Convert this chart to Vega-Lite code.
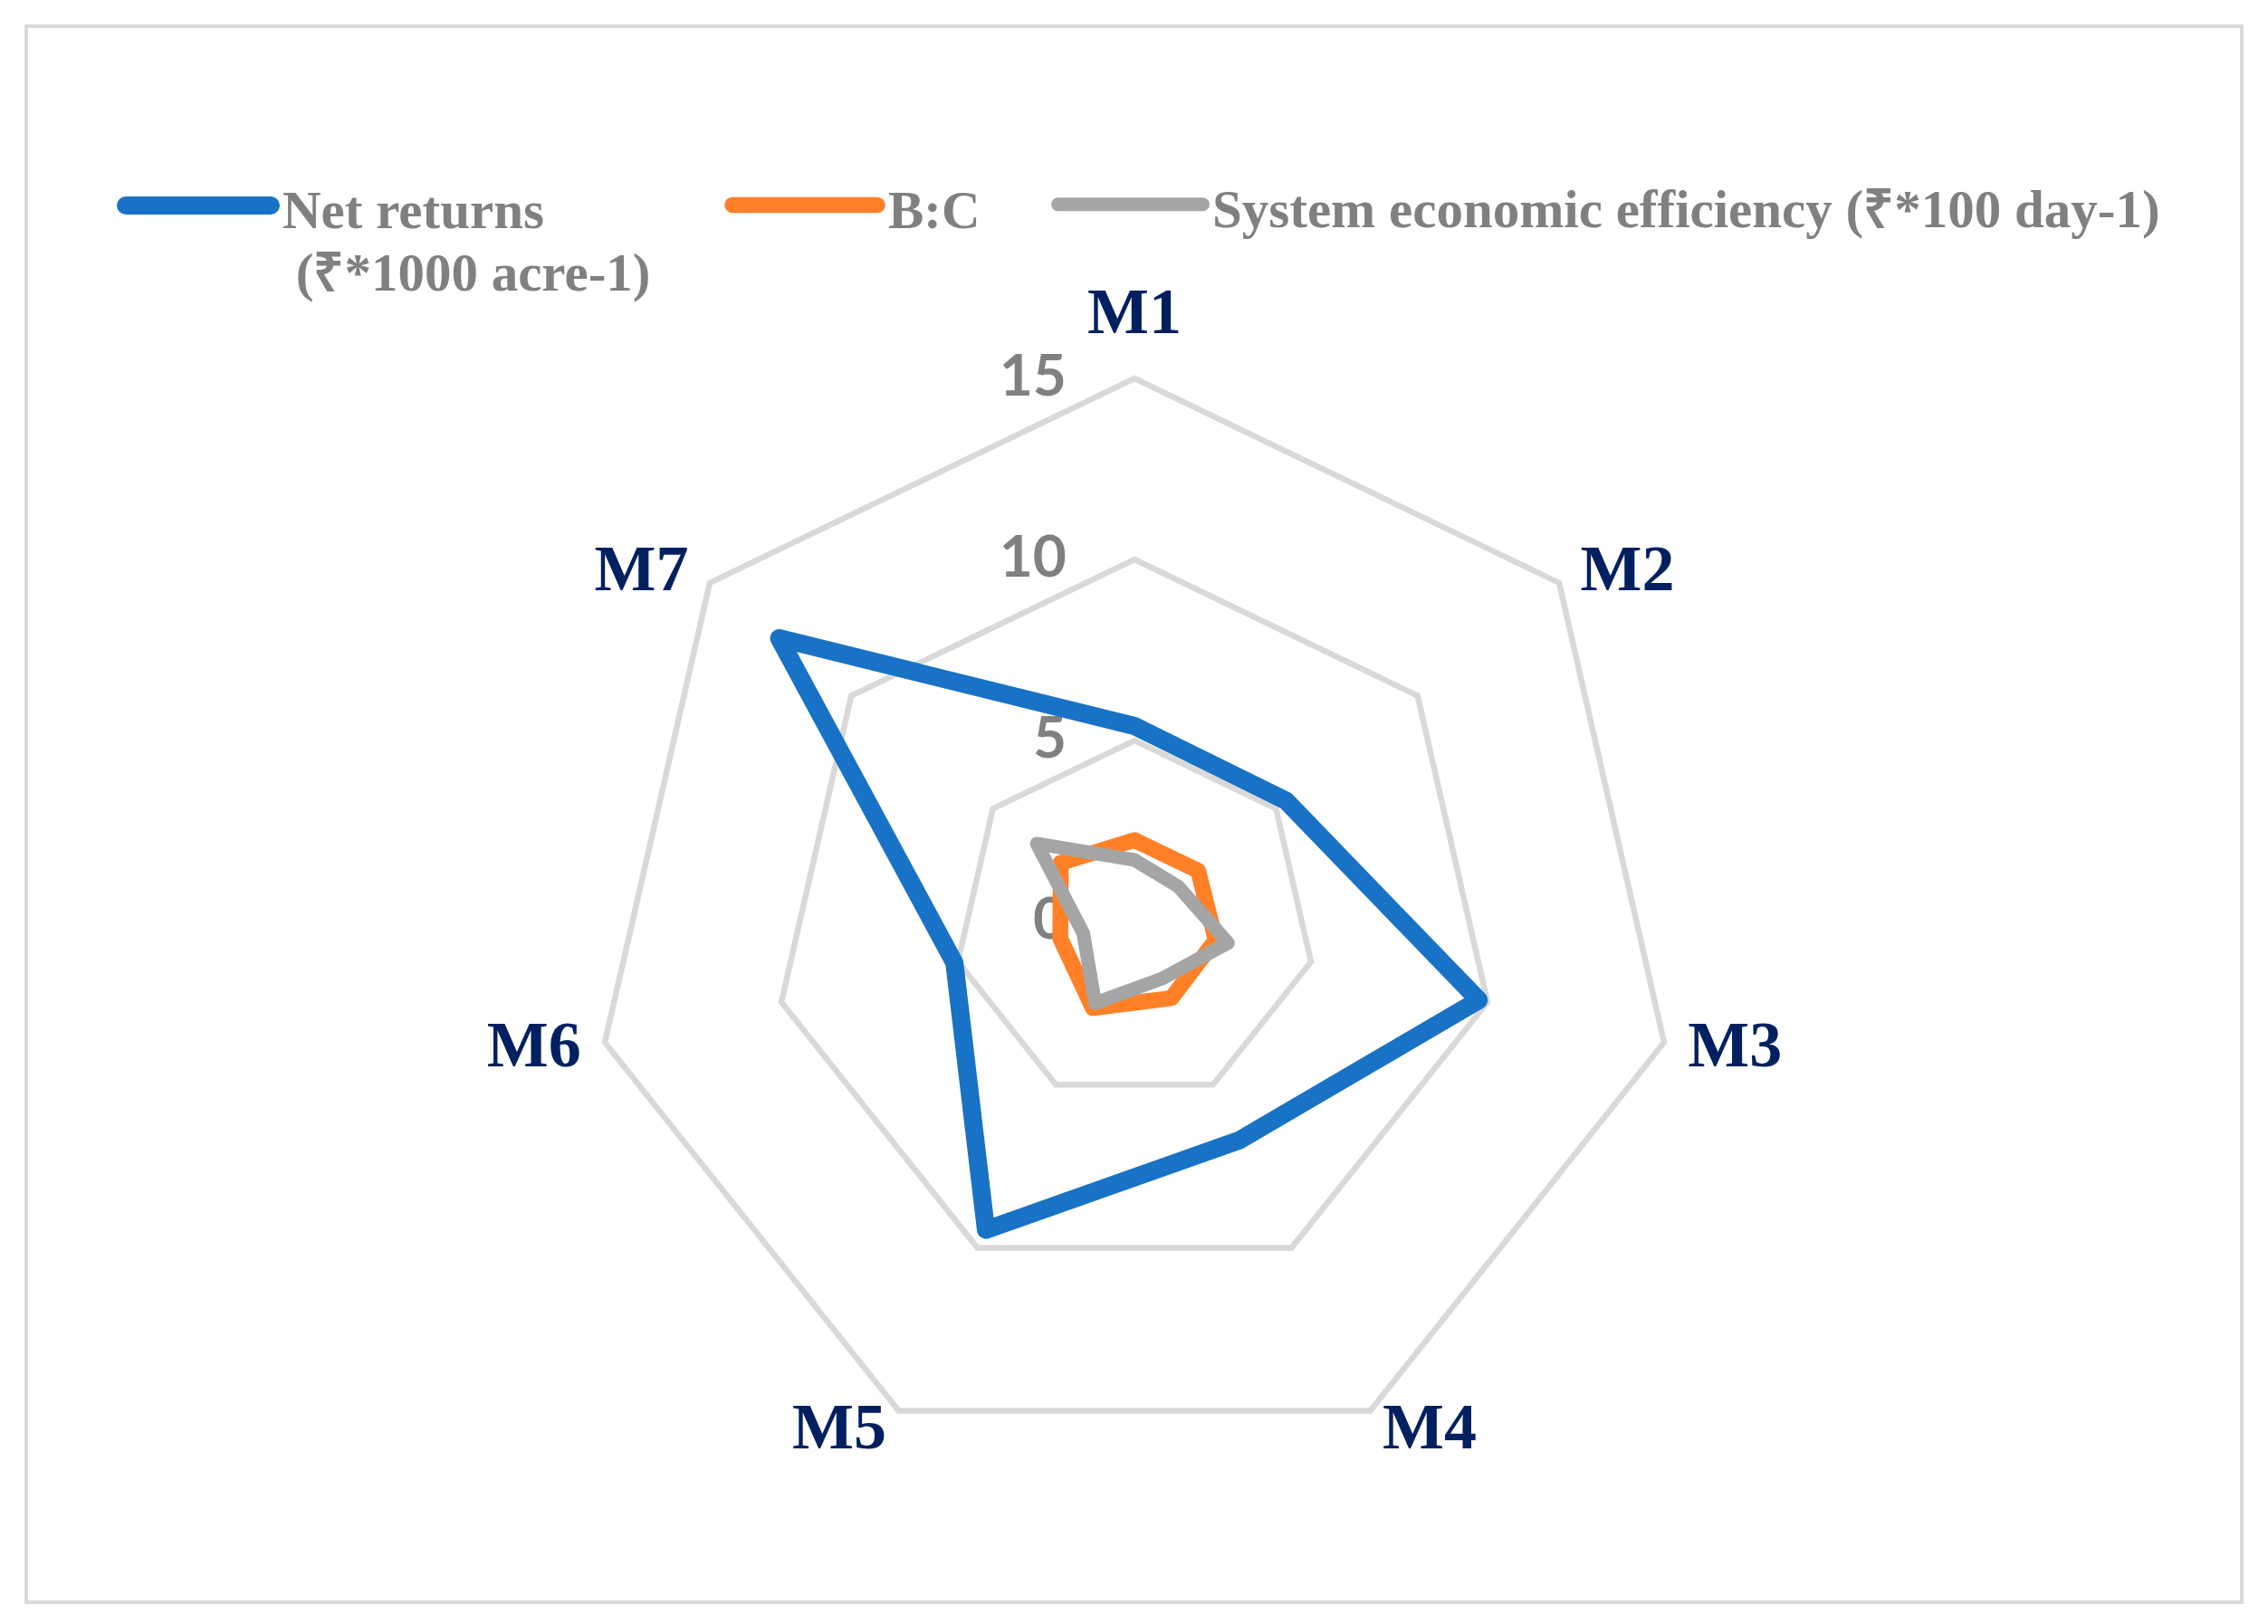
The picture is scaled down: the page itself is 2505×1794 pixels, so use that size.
{
  "$schema": "https://vega.github.io/schema/vega-lite/v6.json",
  "width": 2505,
  "height": 1794,
  "autosize": {"type": "fit", "contains": "padding"},
  "padding": {"left": 29, "right": 29, "top": 29, "bottom": 24},
  "background": "white",
  "config": {"view": {"stroke": "#d9d9d9", "strokeWidth": 4}},
  "datasets": {
    "series": [
      {"series": "Net returns (₹*1000 acre-1)", "cat": "M1", "value": 5.4},
      {"series": "Net returns (₹*1000 acre-1)", "cat": "M2", "value": 5.35},
      {"series": "Net returns (₹*1000 acre-1)", "cat": "M3", "value": 9.75},
      {"series": "Net returns (₹*1000 acre-1)", "cat": "M4", "value": 6.7},
      {"series": "Net returns (₹*1000 acre-1)", "cat": "M5", "value": 9.45},
      {"series": "Net returns (₹*1000 acre-1)", "cat": "M6", "value": 5.1},
      {"series": "Net returns (₹*1000 acre-1)", "cat": "M7", "value": 12.55},
      {"series": "B:C", "cat": "M1", "value": 2.25},
      {"series": "B:C", "cat": "M2", "value": 2.25},
      {"series": "B:C", "cat": "M3", "value": 2.3},
      {"series": "B:C", "cat": "M4", "value": 2.35},
      {"series": "B:C", "cat": "M5", "value": 2.65},
      {"series": "B:C", "cat": "M6", "value": 2.1},
      {"series": "B:C", "cat": "M7", "value": 2.6},
      {"series": "System economic efficiency (₹*100 day-1)", "cat": "M1", "value": 1.7},
      {"series": "System economic efficiency (₹*100 day-1)", "cat": "M2", "value": 1.55},
      {"series": "System economic efficiency (₹*100 day-1)", "cat": "M3", "value": 2.65},
      {"series": "System economic efficiency (₹*100 day-1)", "cat": "M4", "value": 1.75},
      {"series": "System economic efficiency (₹*100 day-1)", "cat": "M5", "value": 2.5},
      {"series": "System economic efficiency (₹*100 day-1)", "cat": "M6", "value": 1.45},
      {"series": "System economic efficiency (₹*100 day-1)", "cat": "M7", "value": 3.45}
    ],
    "grid": [
      {"level": 5, "cat": ["M1", "M2", "M3", "M4", "M5", "M6", "M7"]},
      {"level": 10, "cat": ["M1", "M2", "M3", "M4", "M5", "M6", "M7"]},
      {"level": 15, "cat": ["M1", "M2", "M3", "M4", "M5", "M6", "M7"]}
    ],
    "cats": [
      {"cat": "M1"}, {"cat": "M2"}, {"cat": "M3"}, {"cat": "M4"}, {"cat": "M5"}, {"cat": "M6"}, {"cat": "M7"}
    ],
    "ticks": [{"level": 0}, {"level": 5}, {"level": 10}, {"level": 15}]
  },
  "layer": [
    {
      "data": {"name": "grid"},
      "transform": [
        {"flatten": ["cat"]},
        {"calculate": "indexof(['M1','M2','M3','M4','M5','M6','M7'], datum.cat)", "as": "k"},
        {"calculate": "datum.level * sin(datum.k * 2 * PI / 7)", "as": "px"},
        {"calculate": "datum.level * cos(datum.k * 2 * PI / 7)", "as": "py"}
      ],
      "mark": {"type": "line", "interpolate": "linear-closed", "stroke": "#d9d9d9", "strokeWidth": 6.5},
      "encoding": {
        "x": {"field": "px", "type": "quantitative", "scale": {"domain": [-30.6, 30.575], "nice": false, "zero": false}, "axis": null},
        "y": {"field": "py", "type": "quantitative", "scale": {"domain": [-18.8, 24.725], "nice": false, "zero": false}, "axis": null},
        "detail": {"field": "level"},
        "order": {"field": "k"}
      }
    },
    {
      "data": {"name": "ticks"},
      "transform": [
        {"calculate": "0", "as": "px"},
        {"calculate": "datum.level", "as": "py"}
      ],
      "mark": {"type": "text", "align": "right", "baseline": "middle", "dx": -75, "font": "Lato", "fontWeight": "bold", "fontSize": 64, "color": "#808080"},
      "encoding": {
        "x": {"field": "px", "type": "quantitative", "scale": {"domain": [-30.6, 30.575], "nice": false, "zero": false}, "axis": null},
        "y": {"field": "py", "type": "quantitative", "scale": {"domain": [-18.8, 24.725], "nice": false, "zero": false}, "axis": null},
        "text": {"field": "level", "type": "quantitative"}
      }
    },
    {
      "data": {"name": "series"},
      "transform": [
        {"calculate": "indexof(['M1','M2','M3','M4','M5','M6','M7'], datum.cat)", "as": "k"},
        {"calculate": "datum.value * sin(datum.k * 2 * PI / 7)", "as": "px"},
        {"calculate": "datum.value * cos(datum.k * 2 * PI / 7)", "as": "py"}
      ],
      "mark": {"type": "line", "interpolate": "linear-closed", "strokeJoin": "round"},
      "encoding": {
        "x": {"field": "px", "type": "quantitative", "scale": {"domain": [-30.6, 30.575], "nice": false, "zero": false}, "axis": null},
        "y": {"field": "py", "type": "quantitative", "scale": {"domain": [-18.8, 24.725], "nice": false, "zero": false}, "axis": null},
        "order": {"field": "k"},
        "strokeWidth": {
          "field": "series",
          "type": "nominal",
          "scale": {
            "domain": ["Net returns (₹*1000 acre-1)", "B:C", "System economic efficiency (₹*100 day-1)"],
            "range": [20, 15, 15]
          },
          "legend": null
        },
        "color": {
          "field": "series",
          "type": "nominal",
          "sort": null,
          "scale": {
            "domain": ["Net returns (₹*1000 acre-1)", "B:C", "System economic efficiency (₹*100 day-1)"],
            "range": ["#1872c6", "#ff8027", "#a5a5a5"]
          },
          "legend": {
            "title": null,
            "orient": "none",
            "legendX": 100,
            "legendY": 108,
            "direction": "horizontal",
            "padding": 0,
            "symbolType": "stroke",
            "symbolSize": 25600,
            "symbolStrokeWidth": 20,
            "labelFont": "Liberation Serif",
            "labelFontWeight": "bold",
            "labelFontSize": 59,
            "labelColor": "#808080",
            "labelLimit": 0,
            "labelOffset": 3,
            "labelBaseline": "alphabetic",
            "columnPadding": 55,
            "labelExpr": "datum.label == 'B:C' ? ['B:C', '\u200b\u00a0'] : indexof(datum.label, 'System') == 0 ? [datum.label, '\u200b\u00a0'] : ['Net returns', '\u200b\u00a0(₹*1000 acre-1)']",
            "encode": {
              "labels": {"update": {"dy": {"value": 25}, "lineHeight": {"value": 69}}},
              "symbols": {"update": {"strokeCap": {"value": "round"}}}
            }
          }
        }
      }
    },
    {
      "data": {"name": "cats"},
      "transform": [
        {"calculate": "indexof(['M1','M2','M3','M4','M5','M6','M7'], datum.cat)", "as": "k"},
        {"calculate": "(17.0 + 2.7 * pow(abs(cos(datum.k * 2 * PI / 7)), 4)) * sin(datum.k * 2 * PI / 7)", "as": "px"},
        {"calculate": "(datum.k == 0 ? 16.8 : 15.55) * cos(datum.k * 2 * PI / 7)", "as": "py"}
      ],
      "mark": {"type": "text", "align": "center", "baseline": "middle", "font": "Liberation Serif", "fontWeight": "bold", "fontSize": 72, "color": "#002060"},
      "encoding": {
        "x": {"field": "px", "type": "quantitative", "scale": {"domain": [-30.6, 30.575], "nice": false, "zero": false}, "axis": null},
        "y": {"field": "py", "type": "quantitative", "scale": {"domain": [-18.8, 24.725], "nice": false, "zero": false}, "axis": null},
        "text": {"field": "cat", "type": "nominal"}
      }
    }
  ]
}
